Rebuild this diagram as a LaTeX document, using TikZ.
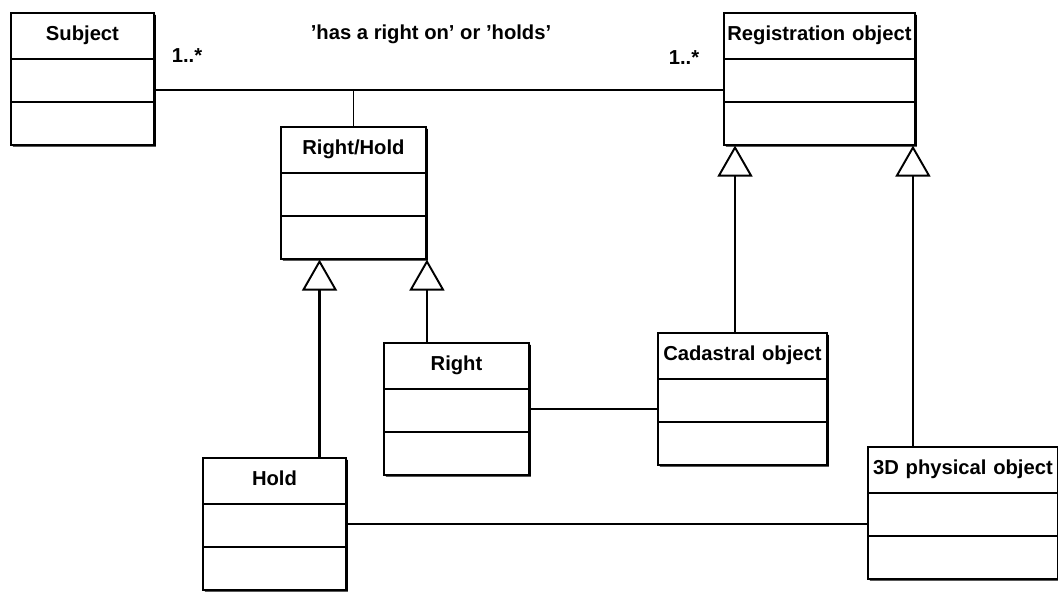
\documentclass[tikz,border=0pt]{standalone}
\usepackage{fontspec}
\setmainfont{Liberation Sans}
\usetikzlibrary{shadows}
\usetikzlibrary{positioning}
\usetikzlibrary{arrows.meta,shapes.multipart}
\usetikzlibrary{calc}

\begin{document}
\begin{tikzpicture}
  [umlclass/.style={rectangle split,rectangle split parts=3,draw=black,fill=white,line width=1.1pt,
     anchor=north west,inner xsep=0pt,inner ysep=0.21cm,align=center,
     rectangle split empty part height=0.40cm,rectangle split empty part depth=0pt,
     font=\fontsize{11.5}{13}\selectfont\bfseries,
     drop shadow={shadow xshift=0.04cm,shadow yshift=-0.04cm,fill=black,opacity=1}},
   assoc/.style={black,line width=1.1pt},
   isa/.style={black,line width=1.4pt,-{Triangle[open,length=0.62cm,width=0.7cm,line width=1.1pt]}},
   lbl/.style={font=\fontsize{11.5}{13}\selectfont\bfseries}]
  \useasboundingbox (0,0) rectangle (21.16,-11.82);

  \node[umlclass,text width=2.86cm] (subject) at (0.20,-0.24) {\strut Subject};
  \node[umlclass,text width=2.90cm] (righthold) at (5.60,-2.52) {\strut Right/Hold};
  \node[umlclass,text width=3.82cm] (registration) at (14.46,-0.24) {\strut Registration object};
  \node[umlclass,text width=2.90cm] (right) at (7.66,-6.84) {\strut Right};
  \node[umlclass,text width=2.86cm] (hold) at (4.04,-9.14) {\strut Hold};
  \node[umlclass,text width=3.38cm] (cadastral) at (13.14,-6.64) {\strut Cadastral object};
  \node[umlclass,text width=3.80cm] (physical) at (17.34,-8.92) {\strut 3D physical object};

  \node[lbl] (role) at (8.62,-0.68) {'has a right on' or 'holds'};
  \node[lbl] (mult1) at (3.74,-1.12) {1..*};
  \node[lbl] (mult2) at (13.68,-1.16) {1..*};

  \coordinate (junction) at (righthold.north |- 0,-1.80);
  \draw[assoc] (subject.east |- junction) -- (registration.west |- junction);
  \draw[assoc] (junction) -- (righthold.north);
  \draw[assoc] (right.east) -- (right.east -| cadastral.west);
  \draw[assoc] (hold.east) -- (hold.east -| physical.west);

  \coordinate (gen1) at ($(righthold.south west)!0.269!(righthold.south east)$);
  \coordinate (gen2) at (righthold.south east);
  \coordinate (gen3) at ($(registration.south west)+(0.24,0)$);
  \coordinate (gen4) at ($(registration.south east)+(-0.06,0)$);
  \draw[isa] (hold.north -| gen1) -- (gen1);
  \draw[isa] (right.north -| gen2) -- (gen2);
  \draw[isa] (cadastral.north -| gen3) -- (gen3);
  \draw[isa] (physical.north -| gen4) -- (gen4);
\end{tikzpicture}
\end{document}
